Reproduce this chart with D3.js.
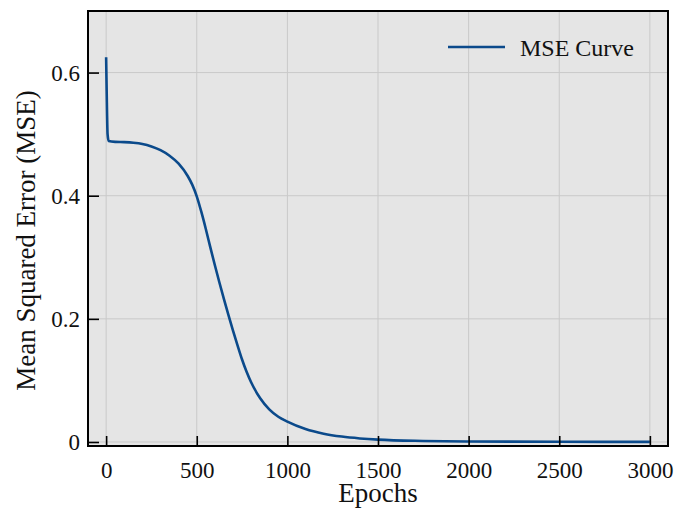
<!DOCTYPE html>
<html>
<head>
<meta charset="utf-8">
<script src="https://cdn.jsdelivr.net/npm/d3@7"></script>
<style>
	body { margin: 0; background: #fff; }
	svg { display: block; }
	text { font-family: "Liberation Serif", "Times New Roman", "DejaVu Serif", serif; fill: #111; }
</style>
</head>
<body>
<div id="chart"></div>
<script>
// values
var epochs = [0, 3, 8, 14, 50, 100, 150, 200, 250, 300, 350, 400, 450, 475, 500, 525, 550, 575, 600, 625, 650, 675, 700, 725, 750, 775, 800, 850, 900, 950, 1000, 1100, 1200, 1300, 1400, 1500, 1750, 2000, 2500, 3000];
var mse    = [0.625, 0.57, 0.50, 0.489, 0.4875, 0.487, 0.486, 0.484, 0.480, 0.474, 0.465, 0.452, 0.432, 0.418, 0.399, 0.374, 0.346, 0.316, 0.287, 0.259, 0.232, 0.206, 0.181, 0.157, 0.134, 0.114, 0.097, 0.071, 0.053, 0.041, 0.033, 0.021, 0.0135, 0.0088, 0.0058, 0.0038, 0.0017, 0.0009, 0.0004, 0.0002];
var xTicks = [0, 500, 1000, 1500, 2000, 2500, 3000];
var yTicks = [0, 0.2, 0.4, 0.6];
var yTickLabels = ['0', '0.2', '0.4', '0.6'];
var seriesName = 'MSE Curve';

var fmt = {
	width: 689, height: 508,
	left: 88, right: 668, top: 11, bottom: 446,
	clr_bkg: '#e5e5e5',
	clr_grid: '#c9c9c9',
	clr_line: '#0b4a8b'
};

var data = epochs.map(function(e, i) { return {epoch: e, value: mse[i]}; });

var svg = d3.select('#chart').append('svg')
	.attr('width', fmt.width)
	.attr('height', fmt.height);

var xScale = d3.scaleLinear().domain([-100, 3100]).range([fmt.left, fmt.right]);
var yScale = d3.scaleLinear().domain([-0.0065, 0.7]).range([fmt.bottom, fmt.top]);

// plot background
svg.append('rect')
	.attr('x', fmt.left).attr('y', fmt.top)
	.attr('width', fmt.right - fmt.left).attr('height', fmt.bottom - fmt.top)
	.attr('fill', fmt.clr_bkg);

// grid
svg.append('g').selectAll('line').data(xTicks).join('line')
	.attr('x1', function(d) { return xScale(d); }).attr('x2', function(d) { return xScale(d); })
	.attr('y1', fmt.top).attr('y2', fmt.bottom)
	.attr('stroke', fmt.clr_grid).attr('stroke-width', 1);
svg.append('g').selectAll('line').data(yTicks).join('line')
	.attr('y1', function(d) { return yScale(d); }).attr('y2', function(d) { return yScale(d); })
	.attr('x1', fmt.left).attr('x2', fmt.right)
	.attr('stroke', fmt.clr_grid).attr('stroke-width', 1);

// curve
var line = d3.line()
	.x(function(d) { return xScale(d.epoch); })
	.y(function(d) { return yScale(d.value); })
	.curve(d3.curveMonotoneX);

svg.append('path')
	.datum(data)
	.attr('d', line)
	.attr('fill', 'none')
	.attr('stroke', fmt.clr_line)
	.attr('stroke-width', 2.6);

// axes, ticks pointing inward
var xAxis = svg.append('g')
	.attr('transform', 'translate(0,' + fmt.bottom + ')')
	.call(d3.axisBottom(xScale).tickValues(xTicks).tickSizeInner(-10).tickSizeOuter(0).tickPadding(16)
		.tickFormat(d3.format('d')));
var yAxis = svg.append('g')
	.attr('transform', 'translate(' + fmt.left + ',0)')
	.call(d3.axisLeft(yScale).tickValues(yTicks).tickSizeInner(-11).tickSizeOuter(0).tickPadding(8)
		.tickFormat(function(d, i) { return yTickLabels[i]; }));

[xAxis, yAxis].forEach(function(ax) {
	ax.select('.domain').remove();
	ax.selectAll('.tick line').attr('stroke', '#000').attr('stroke-width', 1.6);
	ax.selectAll('.tick text')
		.attr('font-family', '"Liberation Serif", serif')
		.attr('font-size', 23)
		.attr('fill', '#111');
});
yAxis.selectAll('.tick text').attr('dy', '0.34em');

// frame
svg.append('rect')
	.attr('x', fmt.left).attr('y', fmt.top)
	.attr('width', fmt.right - fmt.left).attr('height', fmt.bottom - fmt.top)
	.attr('fill', 'none')
	.attr('stroke', '#000').attr('stroke-width', 2);

// axis titles
svg.append('text')
	.attr('x', (fmt.left + fmt.right) / 2).attr('y', 502)
	.attr('text-anchor', 'middle')
	.attr('font-size', 27)
	.text('Epochs');
svg.append('text')
	.attr('transform', 'translate(35,' + ((fmt.top + fmt.bottom) / 2 + 12) + ') rotate(-90)')
	.attr('text-anchor', 'middle')
	.attr('font-size', 27)
	.text('Mean Squared Error (MSE)');

// legend
var legend = svg.append('g').attr('transform', 'translate(448,47)');
legend.append('line')
	.attr('x1', 0).attr('x2', 57).attr('y1', 0).attr('y2', 0)
	.attr('stroke', fmt.clr_line).attr('stroke-width', 2.6);
legend.append('text')
	.attr('x', 72).attr('y', 9)
	.attr('font-size', 24)
	.text(seriesName);
</script>
</body>
</html>
